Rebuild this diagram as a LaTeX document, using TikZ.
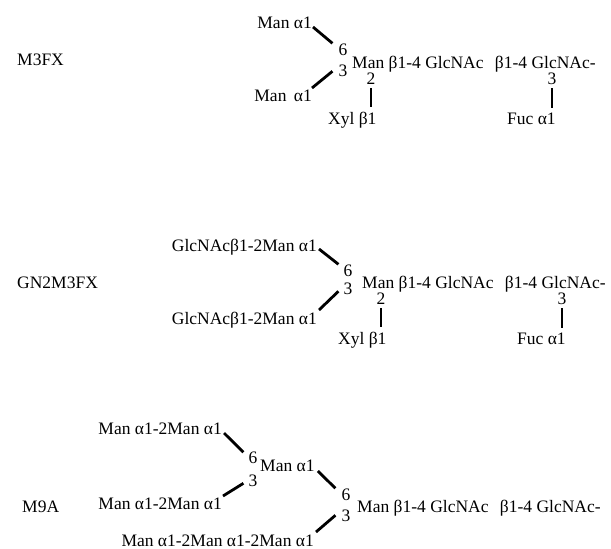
\documentclass[tikz,border=0pt]{standalone}
\usepackage{fontspec}
\setmainfont{Liberation Serif}
\begin{document}
\begin{tikzpicture}[x=1pt,y=-1pt,
  lbl/.style={inner sep=0pt, font=\fontsize{17.5}{20}\selectfont},
  bond/.style={line width=2.8pt, line cap=butt}]
\useasboundingbox (0,0) rectangle (611,549);

% ---------- Row 1: M3FX ----------
\node[lbl,anchor=base west] (r1name) at (17,65) {M3FX};
\node[lbl,anchor=base east] (r1top) at (312,28) {Man α1};
\node[lbl,anchor=base] (r1six) at (343,55) {6};
\node[lbl,anchor=base] (r1three) at (343,76) {3};
\node[lbl,anchor=base east] (r1low) at (312,101) {Man\hspace{3pt} α1};
\node[lbl,anchor=base west] (r1main) at (352,68) {Man β1-4 GlcNAc\hspace{7pt} β1-4 GlcNAc-};
\node[lbl,anchor=base] (r1two) at (371,84) {2};
\node[lbl,anchor=base] (r1fpos) at (552,84) {3};
\node[lbl,anchor=base west] (r1xyl) at (328,124) {Xyl β1};
\node[lbl,anchor=base west] (r1fuc) at (507,124) {Fuc α1};
\draw[bond] ([shift={(1,-1)}]r1top.base east) -- ([shift={(-6,-6)}]r1six.west);
\draw[bond] ([shift={(0,-13)}]r1low.base east) -- ([shift={(-6,1)}]r1three.west);
\draw[bond] ([yshift=-4pt]r1two.south) -- ([yshift=4pt]r1two.south |- r1xyl.north);
\draw[bond] ([yshift=-4pt]r1fpos.south) -- ([yshift=4pt]r1fpos.south |- r1fuc.north);

% ---------- Row 2: GN2M3FX ----------
\node[lbl,anchor=base west] (r2name) at (17,288) {GN2M3FX};
\node[lbl,anchor=base east] (r2top) at (317,251) {GlcNAcβ1-2Man α1};
\node[lbl,anchor=base] (r2six) at (348,276) {6};
\node[lbl,anchor=base] (r2three) at (348,294) {3};
\node[lbl,anchor=base east] (r2low) at (317,324) {GlcNAcβ1-2Man α1};
\node[lbl,anchor=base west] (r2main) at (362,288) {Man β1-4 GlcNAc\hspace{7pt} β1-4 GlcNAc-};
\node[lbl,anchor=base] (r2two) at (381,304) {2};
\node[lbl,anchor=base] (r2fpos) at (562,304) {3};
\node[lbl,anchor=base west] (r2xyl) at (338,344) {Xyl β1};
\node[lbl,anchor=base west] (r2fuc) at (517,344) {Fuc α1};
\draw[bond] ([shift={(2,-2)}]r2top.base east) -- ([shift={(-5,-6)}]r2six.west);
\draw[bond] ([shift={(2,-14)}]r2low.base east) -- ([shift={(-5,3)}]r2three.west);
\draw[bond] ([yshift=-4pt]r2two.south) -- ([yshift=4pt]r2two.south |- r2xyl.north);
\draw[bond] ([yshift=-4pt]r2fpos.south) -- ([yshift=4pt]r2fpos.south |- r2fuc.north);

% ---------- Row 3: M9A ----------
\node[lbl,anchor=base west] (r3name) at (22,512) {M9A};
\node[lbl,anchor=base east] (r3topl) at (222,434) {Man α1-2Man α1};
\node[lbl,anchor=base] (r3sixa) at (253,463) {6};
\node[lbl,anchor=base] (r3threea) at (253,486) {3};
\node[lbl,anchor=base west] (r3mid) at (260,471) {Man α1};
\node[lbl,anchor=base east] (r3secl) at (222,509) {Man α1-2Man α1};
\node[lbl,anchor=base] (r3sixb) at (346,500) {6};
\node[lbl,anchor=base] (r3threeb) at (346,521) {3};
\node[lbl,anchor=base west] (r3main) at (357,512) {Man β1-4 GlcNAc\hspace{7pt} β1-4 GlcNAc-};
\node[lbl,anchor=base east] (r3bot) at (314,546) {Man α1-2Man α1-2Man α1};
\draw[bond] ([shift={(2,-1)}]r3topl.base east) -- ([shift={(-5,-5)}]r3sixa.west);
\draw[bond] ([shift={(1,-13)}]r3secl.base east) -- ([shift={(-5,3)}]r3threea.west);
\draw[bond] ([shift={(3,0)}]r3mid.base east) -- ([shift={(-6,-6)}]r3sixb.west);
\draw[bond] ([shift={(2,-14)}]r3bot.base east) -- ([shift={(-6,0)}]r3threeb.west);
\end{tikzpicture}
\end{document}
